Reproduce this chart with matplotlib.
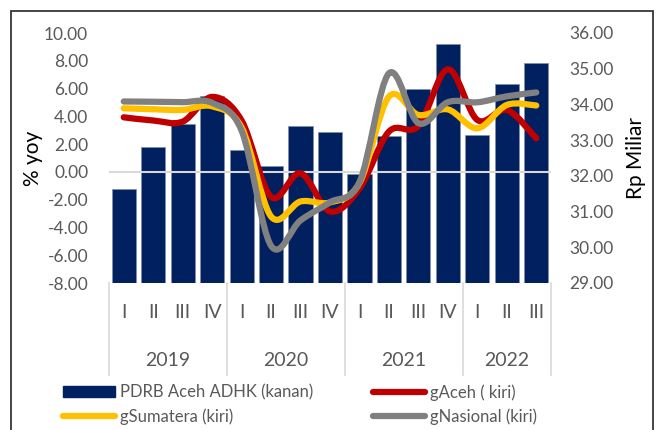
import numpy as np
import matplotlib
matplotlib.use("Agg")
from matplotlib import pyplot as plt
from matplotlib.path import Path
from matplotlib.patches import PathPatch, Rectangle
from matplotlib.lines import Line2D
from matplotlib.transforms import blended_transform_factory

plt.rcParams['font.family'] = ['Lato', 'DejaVu Sans']

quarters = ['I', 'II', 'III', 'IV', 'I', 'II', 'III', 'IV',
            'I', 'II', 'III', 'IV', 'I', 'II', 'III']
years = ['2019', '2020', '2021', '2022']
year_len = [4, 4, 4, 3]

pdrb = [31.62, 32.81, 33.44, 34.24, 32.71, 32.28, 33.40, 33.22,
        32.05, 33.11, 34.42, 35.69, 33.14, 34.56, 35.16]
g_aceh = [3.93, 3.70, 3.62, 5.40, 3.70, -1.80, -0.10, -2.85,
          -1.20, 2.90, 3.30, 7.39, 3.74, 4.46, 2.42]
g_sumatera = [4.58, 4.51, 4.46, 4.72, 3.20, -3.21, -2.13, -2.20,
              -0.80, 5.42, 4.10, 4.50, 3.14, 4.82, 4.78]
g_nasional = [5.07, 5.05, 5.02, 4.97, 2.97, -5.32, -3.49, -2.19,
              -0.74, 7.10, 3.51, 5.02, 5.01, 5.44, 5.72]

C_BAR = '#002060'
C_ACEH = '#c00000'
C_SUM = '#ffc000'
C_NAS = '#808080'
C_TXT = '#595959'


def smooth_path(x, y):
    # excel-like smoothed line: bezier segments, control points from neighbours
    x = np.asarray(x, float)
    y = np.asarray(y, float)
    n = len(x)
    verts = [(x[0], y[0])]
    codes = [Path.MOVETO]
    for i in range(n - 1):
        p0 = np.array([x[max(i - 1, 0)], y[max(i - 1, 0)]])
        p1 = np.array([x[i], y[i]])
        p2 = np.array([x[i + 1], y[i + 1]])
        p3 = np.array([x[min(i + 2, n - 1)], y[min(i + 2, n - 1)]])
        c1 = p1 + (p2 - p0) / 6.0
        c2 = p2 - (p3 - p1) / 6.0
        verts += [tuple(c1), tuple(c2), tuple(p2)]
        codes += [Path.CURVE4] * 3
    return Path(verts, codes)


fig = plt.figure(figsize=(6.58, 4.30), dpi=100)
W, H = 658.0, 430.0

# outer frame
fig.patches.append(Rectangle((11 / W, -0.05), 642 / W, 1.05 - 11 / H,
                             transform=fig.transFigure, fill=False,
                             edgecolor='#262626', linewidth=1.2))

ax = fig.add_axes([109 / W, 1 - 283 / H, 442 / W, 250 / H])
ax2 = ax.twinx()
ax.set_zorder(ax2.get_zorder() + 1)
ax.patch.set_visible(False)

x = np.arange(len(pdrb))
ax2.bar(x, np.array(pdrb) - 29, bottom=29, width=0.82, color=C_BAR,
        edgecolor='#7f8fa9', linewidth=0.5)
ax2.set_ylim(29, 36)
ax2.set_yticks(np.arange(29, 36.5, 1))
ax2.set_yticklabels([f'{v:.2f}' for v in np.arange(29, 36.5, 1)])

ax.axhline(0, color='#d9d9d9', linewidth=1.5, zorder=1)
for vals, col in [(g_aceh, C_ACEH), (g_sumatera, C_SUM), (g_nasional, C_NAS)]:
    ax.add_patch(PathPatch(smooth_path(x, vals), facecolor='none', edgecolor=col,
                           linewidth=4.5, capstyle='round', joinstyle='round',
                           zorder=3))

ax.set_xlim(-0.5, len(pdrb) - 0.5)
ax.set_ylim(-8, 10)
ax.set_yticks(np.arange(-8, 10.5, 2))
ax.set_yticklabels([f'{v:.2f}' for v in np.arange(-8, 10.5, 2)])
ax.set_xticks([])

for a in (ax, ax2):
    for s in a.spines.values():
        s.set_visible(False)
    a.tick_params(axis='y', length=0, labelsize=12.5, labelcolor=C_TXT)
ax.tick_params(axis='y', pad=15)
ax2.tick_params(axis='y', pad=13)

ax.set_ylabel('% yoy', fontsize=15, color='black', labelpad=1)
ax2.set_ylabel('Rp Miliar', fontsize=15, color='black', labelpad=9)

# category axis: quarters, years and separators
tr = blended_transform_factory(ax.transData, ax.transAxes)
for i, q in enumerate(quarters):
    ax.text(i, -0.12, q, transform=tr, ha='center', va='center',
            fontsize=14, color=C_TXT)
start = 0
edges = [-0.5]
for yr, n in zip(years, year_len):
    ax.text(start + (n - 1) / 2, -0.308, yr, transform=tr, ha='center',
            va='center', fontsize=14, color=C_TXT)
    start += n
    edges.append(start - 0.5)
for e in edges:
    ax.add_line(Line2D([e, e], [0, -0.368], transform=tr, color='#d9d9d9',
                       linewidth=1.2, clip_on=False))

handles = [
    Rectangle((0, 0), 1, 1, facecolor=C_BAR, edgecolor=C_BAR),
    Line2D([], [], color=C_SUM, linewidth=4.5, solid_capstyle='round'),
    Line2D([], [], color=C_ACEH, linewidth=4.5, solid_capstyle='round'),
    Line2D([], [], color=C_NAS, linewidth=4.5, solid_capstyle='round'),
]
labels = ['PDRB Aceh ADHK (kanan)', 'gSumatera (kiri)', 'gAceh ( kiri)',
          'gNasional (kiri)']
leg = fig.legend(handles, labels, ncol=2, loc='upper left',
                 bbox_to_anchor=(48 / W, 1 - 369 / H), frameon=False,
                 fontsize=12, handlelength=3.1, handleheight=0.6,
                 handletextpad=0.3, columnspacing=3.6, labelspacing=0.45)
for t in leg.get_texts():
    t.set_color(C_TXT)

fig.savefig('out.png', dpi=100)
